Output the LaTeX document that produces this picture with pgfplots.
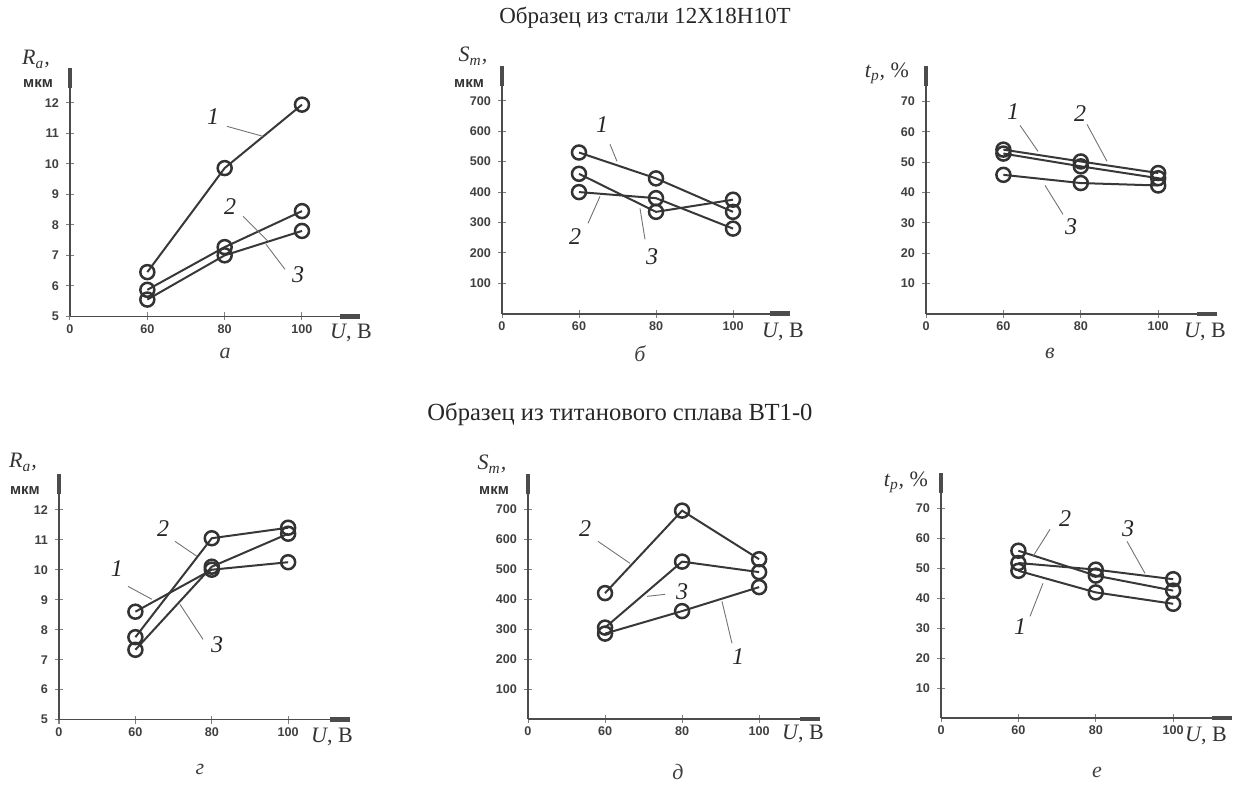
\documentclass[border=0pt]{standalone}
\usepackage{fontspec}
\setmainfont{Liberation Serif}
\setsansfont{Liberation Sans}
\usepackage{pgfplots}
\pgfplotsset{compat=1.18}
\usetikzlibrary{arrows.meta}

\pgfplotsset{panel/.style={
  scale only axis, anchor=south west, axis lines=left, clip=false,
  axis line style={black!70, line width=0.8pt, -{Rectangle[length=10pt,width=2.4pt]}},
  xmin=0, xtick={0,1,2,3}, xticklabels={0,60,80,100},
  tick align=center, major tick length=4pt, tick style={black!50, line width=0.5pt},
  ticklabel style={font=\sffamily\bfseries\fontsize{6.3}{7}\selectfont, text=black!75},
  xticklabel style={yshift=1.5pt},
  /pgf/number format/assume math mode=true,
  every axis plot post/.append style={draw=black!78, line width=1pt, mark=o, mark size=3.5pt,
     mark options={draw=black!80, fill=none, line width=1.25pt, solid}},
}}

\begin{document}
\begin{tikzpicture}
\begin{scope}[x=0.5pt,y=-0.5pt,yshift=390pt]
\path[use as bounding box] (0,0) rectangle (1239,780);
\end{scope}

% ---- a ----
\begin{axis}[panel, at={(35pt,235pt)}, width=145pt, height=124pt,
  xmax=3.75, ymin=5, ymax=13.13, ytick={5,...,12}]
\addplot coordinates {(1,6.45)(2,9.86)(3,11.94)};
\addplot coordinates {(1,5.87)(2,7.27)(3,8.45)};
\addplot coordinates {(1,5.55)(2,7.0)(3,7.8)};
\end{axis}
% ---- b ----
\begin{axis}[panel, at={(251pt,236.25pt)}, width=144pt, height=123.75pt,
  xmax=3.74, ymin=0, ymax=813, ytick={100,200,...,700}]
\addplot coordinates {(1,530)(2,445)(3,335)};
\addplot coordinates {(1,400)(2,380)(3,280)};
\addplot coordinates {(1,460)(2,335)(3,375)};
\end{axis}
% ---- c ----
\begin{axis}[panel, at={(463pt,236.15pt)}, width=145.5pt, height=123.85pt,
  xmax=3.76, ymin=0, ymax=81.5, ytick={10,20,...,70}]
\addplot coordinates {(1,52.8)(2,48.6)(3,44.7)};
\addplot coordinates {(1,54.1)(2,50.2)(3,46.4)};
\addplot coordinates {(1,45.8)(2,43.1)(3,42.3)};
\end{axis}
% ---- d ----
\begin{axis}[panel, at={(29.5pt,33.35pt)}, width=145.5pt, height=122.65pt,
  xmax=3.81, ymin=5, ymax=13.18, ytick={5,...,12}]
\addplot coordinates {(1,8.6)(2,10.0)(3,10.25)};
\addplot coordinates {(1,7.75)(2,11.05)(3,11.4)};
\addplot coordinates {(1,7.33)(2,10.1)(3,11.2)};
\end{axis}
% ---- e ----
\begin{axis}[panel, at={(264pt,33.65pt)}, width=146pt, height=122.35pt,
  xmax=3.79, ymin=0, ymax=816, ytick={100,200,...,700}]
\addplot coordinates {(1,285)(2,360)(3,440)};
\addplot coordinates {(1,420)(2,695)(3,533)};
\addplot coordinates {(1,305)(2,525)(3,490)};
\end{axis}
% ---- f ----
\begin{axis}[panel, at={(470.5pt,34.15pt)}, width=145.5pt, height=122.35pt,
  xmax=3.76, ymin=0, ymax=81.6, ytick={10,20,...,70}]
\addplot coordinates {(1,49.1)(2,41.9)(3,38.1)};
\addplot coordinates {(1,55.8)(2,47.5)(3,42.5)};
\addplot coordinates {(1,51.7)(2,49.5)(3,46.3)};
\end{axis}

\begin{scope}[x=0.5pt,y=-0.5pt,yshift=390pt,
  num/.style={font=\fontsize{12}{12}\selectfont\itshape, text=black!85},
  lead/.style={draw=black!55, line width=0.45pt},
  ttl/.style={font=\fontsize{11.5}{12}\selectfont, text=black!85},
  ul/.style={font=\fontsize{11}{12}\selectfont, text=black!80},
  yl/.style={font=\fontsize{11}{12}\selectfont\itshape, text=black!80},
  unit/.style={font=\sffamily\bfseries\fontsize{7.5}{8}\selectfont, text=black!80},
  pl/.style={font=\fontsize{11}{12}\selectfont\itshape, text=black!75}]
% titles
\node[ttl] at (645,11) {Образец из стали 12Х18Н10Т};
\node[ttl, font=\fontsize{12.3}{13}\selectfont] at (620,408) {Образец из титанового сплава ВТ1-0};
% axis labels
\node[yl] at (36,53) {R\textsubscript{a},};   \node[unit] at (38,77) {мкм};
\node[yl] at (473,50) {S\textsubscript{m},};  \node[unit] at (469,77) {мкм};
\node[yl] at (887,67) {t\textsubscript{p}, \upshape\%};
\node[yl] at (23,456) {R\textsubscript{a},};  \node[unit] at (25,484) {мкм};
\node[yl] at (492,458) {S\textsubscript{m},}; \node[unit] at (494,484) {мкм};
\node[yl] at (906,476) {t\textsubscript{p}, \upshape\%};
\node[ul] at (351,327) {\textit{U}, В};
\node[ul] at (783,326) {\textit{U}, В};
\node[ul] at (1205,326) {\textit{U}, В};
\node[ul] at (332,731) {\textit{U}, В};
\node[ul] at (803,728) {\textit{U}, В};
\node[ul] at (1206,730) {\textit{U}, В};
% panel letters
\node[pl] at (225,347) {а};
\node[pl] at (640,347) {б};
\node[pl] at (1050,347) {в};
\node[pl] at (200,763) {г};
\node[pl] at (678,766) {д};
\node[pl] at (1097,766) {е};
% curve numbers, panel a
\node[num] at (213,110) {1}; \draw[lead] (227,120) -- (263,130);
\node[num] at (230,200) {2}; \draw[lead] (243,210) -- (268,235);
\node[num] at (298,268) {3}; \draw[lead] (266,238) -- (285,263);
% panel b
\node[num] at (602,118) {1}; \draw[lead] (610,138) -- (617,155);
\node[num] at (575,230) {2}; \draw[lead] (588,217) -- (600,190);
\node[num] at (652,250) {3}; \draw[lead] (645,233) -- (640,202);
% panel c
\node[num] at (1013,105) {1}; \draw[lead] (1020,119) -- (1038,145);
\node[num] at (1080,107) {2}; \draw[lead] (1087,118) -- (1107,155);
\node[num] at (1071,220) {3}; \draw[lead] (1063,208) -- (1045,179);
% panel d
\node[num] at (163,522) {2}; \draw[lead] (175,535) -- (197,550);
\node[num] at (117,562) {1}; \draw[lead] (128,580) -- (152,593);
\node[num] at (217,638) {3}; \draw[lead] (203,633) -- (180,598);
% panel e
\node[num] at (585,522) {2}; \draw[lead] (598,535) -- (630,557);
\node[num] at (682,585) {3}; \draw[lead] (665,588) -- (647,590);
\node[num] at (738,650) {1}; \draw[lead] (732,637) -- (722,595);
% panel f
\node[num] at (1065,512) {2}; \draw[lead] (1050,523) -- (1033,550);
\node[num] at (1128,522) {3}; \draw[lead] (1127,535) -- (1145,567);
\node[num] at (1020,620) {1}; \draw[lead] (1030,610) -- (1043,577);
\end{scope}
\end{tikzpicture}
\end{document}
